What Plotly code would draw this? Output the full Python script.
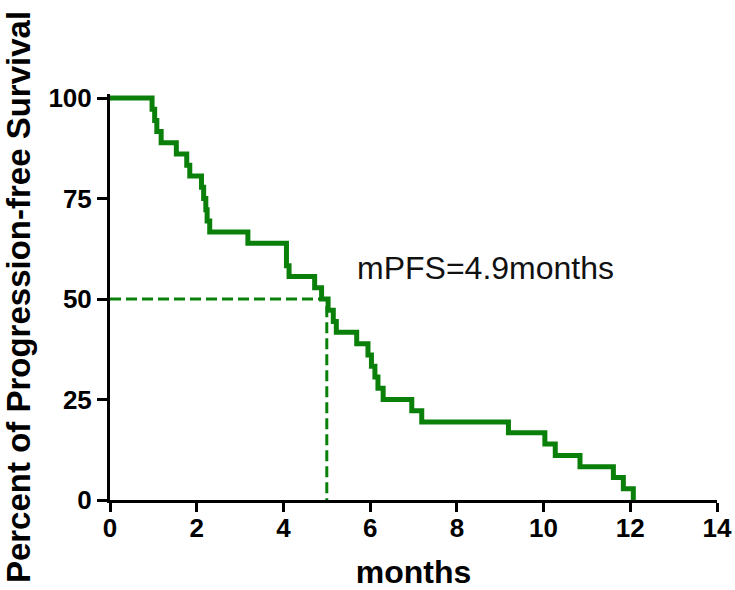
import plotly.graph_objects as go

# Kaplan-Meier step data (months, percent progression-free)
times = [0, 0.97, 1.03, 1.08, 1.18, 1.53, 1.77, 1.84, 2.11, 2.16, 2.21, 2.24, 2.30,
         3.18, 4.07, 4.13, 4.72, 4.88, 5.03, 5.15, 5.22, 5.69, 5.95, 6.03, 6.11,
         6.18, 6.30, 6.96, 7.19, 9.19, 10.03, 10.27, 10.84, 11.61, 11.84, 12.07]
surv = [100, 97.2, 94.4, 91.7, 88.9, 86.1, 83.3, 80.6, 77.8, 75.0, 72.2, 69.4, 66.7,
        63.9, 58.3, 55.6, 52.8, 50.0, 47.2, 44.4, 41.7, 38.9, 36.1, 33.3, 30.6,
        27.8, 25.0, 22.2, 19.4, 16.7, 13.9, 11.1, 8.3, 5.6, 2.8, 0]

median_x = 5.0
median_y = 50
annotation_text = "mPFS=4.9months"
x_ticks = [0, 2, 4, 6, 8, 10, 12, 14]
y_ticks = [0, 25, 50, 75, 100]

GREEN = "#0a800a"
FONT = "Arial, Liberation Sans, sans-serif"

fig = go.Figure()

# median reference lines (dashed)
fig.add_trace(go.Scatter(
    x=[0, median_x, median_x], y=[median_y, median_y, 0],
    mode="lines", line=dict(color=GREEN, width=3, dash="11px,5px"),
    hoverinfo="skip", showlegend=False))

fig.add_trace(go.Scatter(
    x=times, y=surv, mode="lines", line_shape="hv",
    line=dict(color=GREEN, width=5), showlegend=False))

fig.add_annotation(x=5.65, y=57.7, xref="x", yref="y", text=annotation_text,
                   showarrow=False, xanchor="left", yanchor="middle",
                   font=dict(family=FONT, size=32, color="#111111"))

axis_common = dict(showline=True, linecolor="black", linewidth=3,
                   ticks="outside", tickwidth=3, tickcolor="black",
                   showgrid=False, zeroline=False,
                   tickfont=dict(family=FONT, size=26, color="black", weight="bold"))

fig.update_xaxes(range=[0, 14], tickvals=x_ticks, ticklen=9, ticklabelstandoff=-6,
                 title=dict(text="months", standoff=22,
                            font=dict(family=FONT, size=32, color="black", weight="bold")),
                 **axis_common)
fig.update_yaxes(range=[0, 101], tickvals=y_ticks, ticklen=10,
                 title=dict(text="Percent of Progression-free Survival", standoff=30,
                            font=dict(family=FONT, size=33, color="black", weight="bold")),
                 **axis_common)

fig.update_layout(width=735, height=590,
                  margin=dict(l=110, r=18, t=94, b=90, autoexpand=False),
                  plot_bgcolor="white", paper_bgcolor="white")

# remove the default page margin so the 735x590 figure fills the window exactly
fig.write_html("out.html", config={"displayModeBar": False},
               post_script="document.body.style.margin='0px';document.body.style.overflow='hidden';")
